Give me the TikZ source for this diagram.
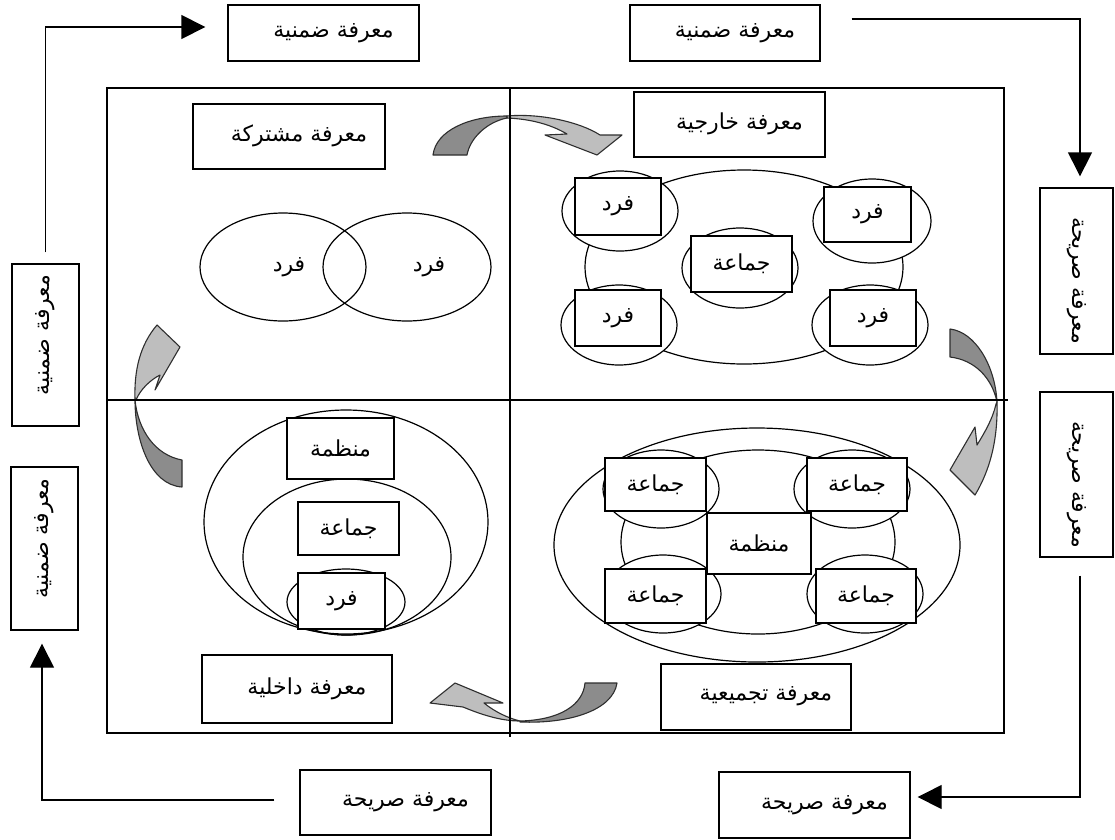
\documentclass[tikz,border=0pt]{standalone}
\usepackage{fontspec}
\newfontfamily\arabicfont[Script=Arabic]{DejaVu Sans}
\TeXXeTstate=1
\newcommand\artxt[1]{{\arabicfont\beginR #1\endR}}
\newcommand\outtxt[1]{\hspace*{20pt}\artxt{#1}}
\newcommand\ttltxt[1]{\hspace*{20pt}\raisebox{6pt}{\artxt{#1}}}
\usetikzlibrary{arrows.meta}
\definecolor{darkg}{HTML}{8C8C8C}
\definecolor{lightg}{HTML}{BEBEBE}
\definecolor{edgeg}{HTML}{2E2E2E}
\begin{document}
\begin{tikzpicture}[x=1pt,y=-1pt,
  bx/.style={draw, fill=white, line width=1.35pt, inner sep=0pt, font=\fontsize{22}{24}\selectfont},
  conn/.style={line width=1.35pt, -{Triangle[length=24pt,width=24pt]}},
  ell/.style={draw, line width=1.2pt},
  ellw/.style={draw, line width=1.2pt, fill=white},
  darkpart/.style={fill=darkg, draw=edgeg, line width=1.1pt, line join=round},
  lightpart/.style={fill=lightg, draw=edgeg, line width=1.1pt, line join=round},
  lbl/.style={inner sep=1pt, font=\fontsize{22}{24}\selectfont}]
\useasboundingbox (0,0) rectangle (1115,839);

% curved gray arrows (behind frame lines)
% top
\path[darkpart] (433,155) .. controls (436,130) and (470,116) .. (507,116) -- (507,118) .. controls (487,122) and (470,138) .. (467,155) -- cycle;
\path[lightpart] (507,116) .. controls (540,113) and (580,122) .. (600,135) -- (622,135) -- (597,155) -- (545,135) -- (567,134) .. controls (550,124) and (530,119) .. (507,118) -- cycle;
% right
\path[darkpart] (950,329) .. controls (975,332) and (995,365) .. (997,402) .. controls (992,378) and (975,360) .. (950,357) -- cycle;
\path[lightpart] (997,402) .. controls (998,440) and (990,470) .. (975,495) -- (950,470) -- (975,427) -- (977,445) .. controls (985,432) and (993,418) .. (996,404) -- cycle;
% bottom
\path[darkpart] (520,721) .. controls (560,720) and (583,705) .. (585,683) -- (617,683) .. controls (613,710) and (570,724) .. (520,722) -- cycle;
\path[lightpart] (430,703) -- (455,683) -- (503,703) -- (484,703) .. controls (495,712) and (508,718) .. (520,721) .. controls (500,721) and (480,714) .. (463,707) -- cycle;
% left
\path[darkpart] (182,487) .. controls (150,485) and (135,440) .. (135,400) .. controls (138,430) and (155,455) .. (182,460) -- cycle;
\path[lightpart] (135,400) .. controls (134,370) and (140,345) .. (157,325) -- (180,347) -- (155,390) -- (160,375) .. controls (150,380) and (140,390) .. (136,400) -- cycle;

% frame and quadrant lines
\draw[line width=1.35pt] (107,88) rectangle (1004,733);
\draw[line width=1.35pt] (107,400) -- (1008,400);
\draw[line width=1.35pt] (510,88) -- (510,737);

% outer boxes
\node[bx, minimum width=191pt, minimum height=56pt] (tl) at (323.5,33) {\outtxt{معرفة ضمنية}};
\node[bx, minimum width=190pt, minimum height=56pt] (tr) at (725,33) {\outtxt{معرفة ضمنية}};
\node[bx, minimum width=73pt, minimum height=166pt] (r1) at (1076.5,271) {\rotatebox{-90}{\outtxt{معرفة صريحة}}};
\node[bx, minimum width=73pt, minimum height=165pt] (r2) at (1076.5,474.5) {\rotatebox{-90}{\outtxt{معرفة صريحة}}};
\node[bx, minimum width=191pt, minimum height=66pt] (br) at (814.5,805) {\outtxt{معرفة صريحة}};
\node[bx, minimum width=191pt, minimum height=65pt] (bl) at (395.5,802.5) {\outtxt{معرفة صريحة}};
\node[bx, minimum width=67pt, minimum height=162pt] (l1) at (45.5,345) {\rotatebox{90}{\outtxt{معرفة ضمنية}}};
\node[bx, minimum width=67pt, minimum height=163pt] (l2) at (44.5,548.5) {\rotatebox{90}{\outtxt{معرفة ضمنية}}};

% outer connectors
\draw[conn, shorten <=11pt, shorten >=22pt] (l1.north) |- ([yshift=6pt]tl.west);
\draw[conn, shorten <=31pt, shorten >=11pt] ([yshift=14pt]tr.east) -| ([xshift=3.5pt]r1.north);
\draw[conn, shorten <=18pt, shorten >=7pt] ([xshift=3.5pt]r2.south) |- ([yshift=8pt]br.east);
\draw[conn, shorten <=25pt, shorten >=13pt] ([yshift=2.5pt]bl.west) -| ([xshift=-2.5pt]l2.south);

% quadrant titles
\node[bx, minimum width=192pt, minimum height=65pt] (q1) at (289,136.5) {\ttltxt{معرفة مشتركة}};
\node[bx, minimum width=191pt, minimum height=65pt] (q2) at (729.5,124.5) {\ttltxt{معرفة خارجية}};
\node[bx, minimum width=190pt, minimum height=68pt] (q3) at (297,689) {\ttltxt{معرفة داخلية}};
\node[bx, minimum width=190pt, minimum height=66pt] (q4) at (756,697) {\ttltxt{معرفة تجميعية}};

% Q1 venn
\draw[ell] (283,267) ellipse [x radius=83pt, y radius=54pt];
\draw[ell] (407,267) ellipse [x radius=84pt, y radius=54pt];
\node[lbl] (v1) at (289,267) {\artxt{فرد}};
\node[lbl] (v2) at (429,267) {\artxt{فرد}};

% Q2
\draw[ell] (744,267) ellipse [x radius=159pt, y radius=97pt];
\draw[ellw] (620,211) ellipse [x radius=58pt, y radius=40pt];
\draw[ellw] (872,221) ellipse [x radius=59pt, y radius=42pt];
\draw[ellw] (740,268) ellipse [x radius=58pt, y radius=40pt];
\draw[ellw] (619,325) ellipse [x radius=58pt, y radius=40pt];
\draw[ellw] (870,325) ellipse [x radius=58pt, y radius=40pt];
\node[bx, minimum width=86pt, minimum height=57pt] (a1) at (618,206.5) {\artxt{فرد}};
\node[bx, minimum width=87pt, minimum height=55pt] (a2) at (867.5,214.5) {\artxt{فرد}};
\node[bx, minimum width=101pt, minimum height=56pt] (a3) at (741.5,264) {\artxt{جماعة}};
\node[bx, minimum width=86pt, minimum height=56pt] (a4) at (618,318) {\artxt{فرد}};
\node[bx, minimum width=86pt, minimum height=56pt] (a5) at (873,318) {\artxt{فرد}};

% Q3
\draw[ell] (346,522) ellipse [x radius=142pt, y radius=112pt];
\draw[ell] (347,557) ellipse [x radius=104pt, y radius=78pt];
\draw[ell] (346,602) ellipse [x radius=59pt, y radius=33pt];
\node[bx, minimum width=107pt, minimum height=61pt] (b1) at (340.5,448.5) {\artxt{منظمة}};
\node[bx, minimum width=101pt, minimum height=53pt] (b2) at (348.5,528.5) {\artxt{جماعة}};
\node[bx, minimum width=87pt, minimum height=56pt] (b3) at (341.5,601) {\artxt{فرد}};

% Q4
\draw[ell] (757,545) ellipse [x radius=203pt, y radius=117pt];
\draw[ell] (758,542) ellipse [x radius=137pt, y radius=92pt];
\draw[ellw] (661,489) ellipse [x radius=58pt, y radius=39pt];
\draw[ellw] (852,489) ellipse [x radius=58pt, y radius=39pt];
\draw[ellw] (663,594) ellipse [x radius=58pt, y radius=39pt];
\draw[ellw] (865,594) ellipse [x radius=58pt, y radius=39pt];
\node[bx, minimum width=101pt, minimum height=53pt] (c1) at (655.5,484.5) {\artxt{جماعة}};
\node[bx, minimum width=100pt, minimum height=53pt] (c2) at (857,484.5) {\artxt{جماعة}};
\node[bx, minimum width=101pt, minimum height=54pt] (c3) at (655.5,596) {\artxt{جماعة}};
\node[bx, minimum width=100pt, minimum height=54pt] (c4) at (866,596) {\artxt{جماعة}};
\node[bx, minimum width=104pt, minimum height=61pt] (c5) at (759,543.5) {\artxt{منظمة}};
\end{tikzpicture}
\end{document}
